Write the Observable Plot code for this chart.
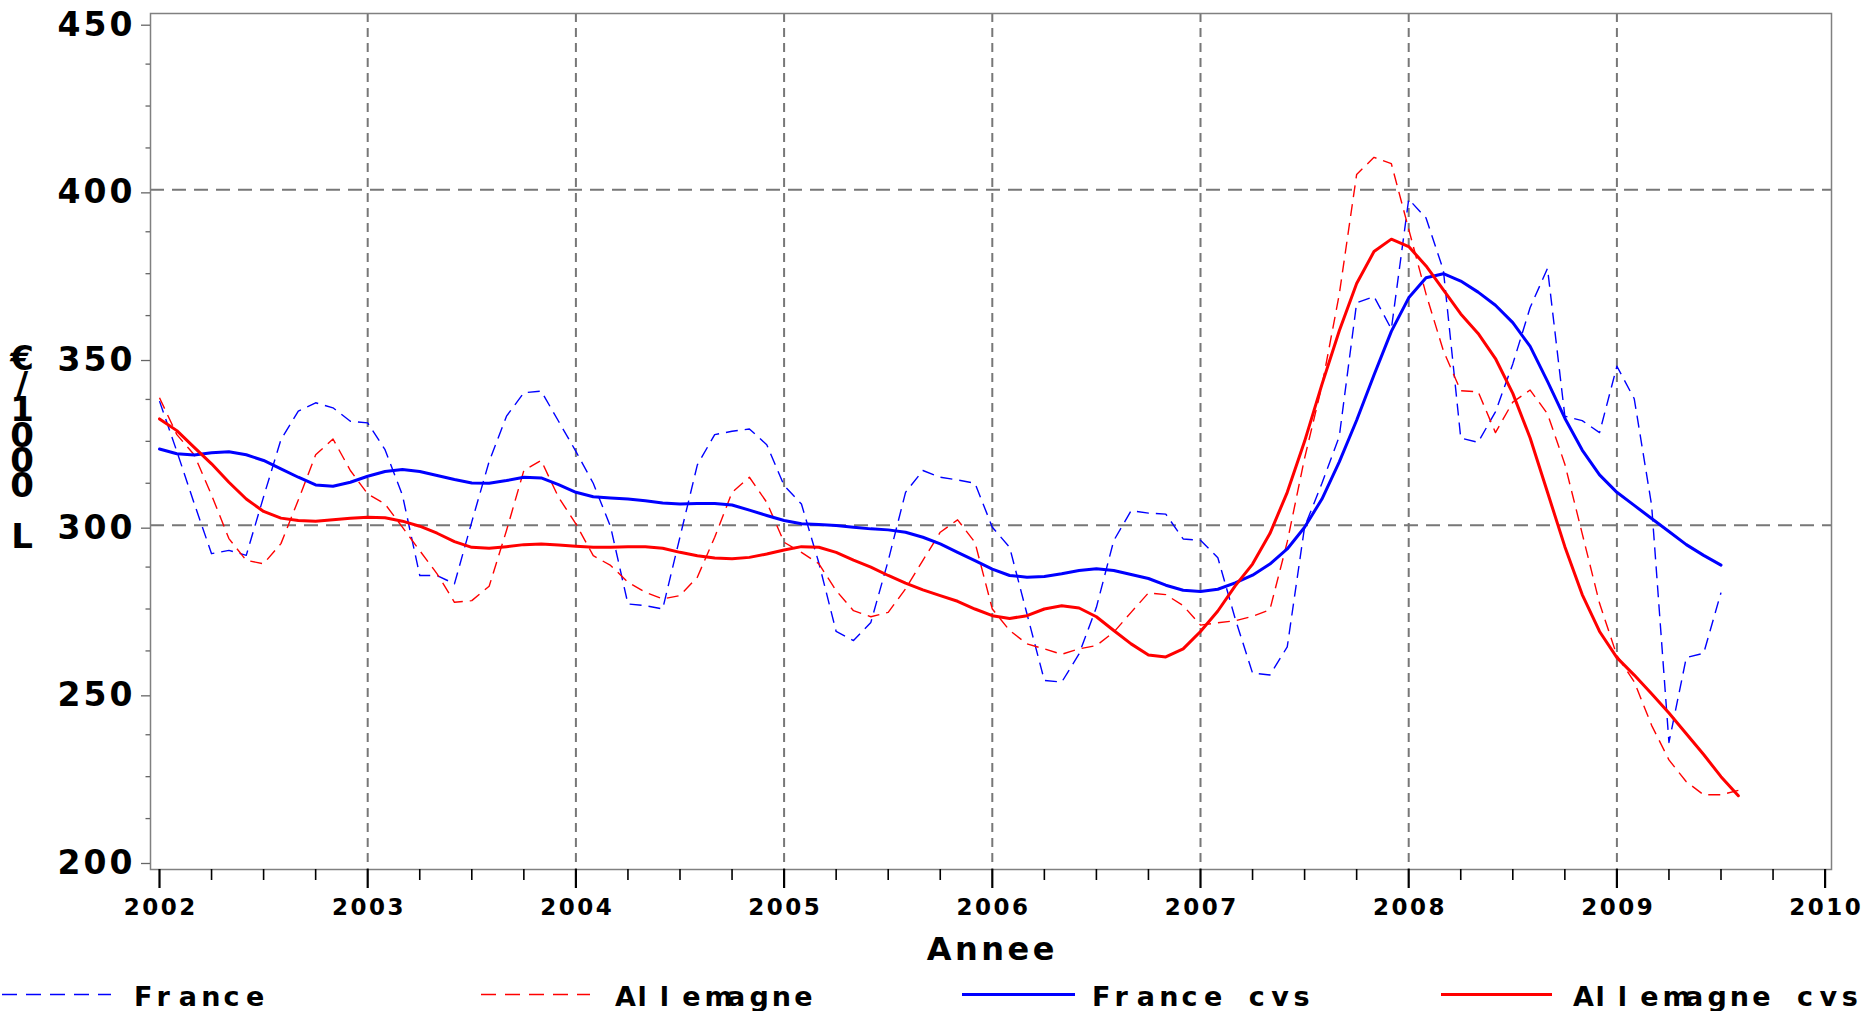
<!DOCTYPE html>
<html><head><meta charset="utf-8">
<script src="https://cdn.jsdelivr.net/npm/d3@7"></script>
<script src="https://cdn.jsdelivr.net/npm/@observablehq/plot@0.6"></script>
<style>
html,body{margin:0;padding:0;background:#fff;overflow:hidden;}
#chart svg{display:block;}
</style></head><body><div id="chart"></div>
<script>
// ---- data (monthly, starting January 2002) ----
const startYear = 2002;
const france = [
  337, 322, 306.5, 291.5, 292.5, 291, 308.5, 325.5, 334, 336.5, 335, 331,
  330.5, 322.5, 309, 285, 285, 282.5, 301, 319, 332.5, 339.5, 340, 331,
  322, 312.5, 299.5, 276.5, 276, 275, 296.5, 318, 327, 328, 328.7, 324,
  311.8, 306.3, 288.8, 268.3, 265.6, 271, 289.4, 309.8, 316.3, 314.3, 313.5, 312.5,
  299.4, 293.4, 273.5, 253.7, 253.2, 261.6, 275.5, 295.4, 304.3, 303.6, 303.3, 295.9,
  295.5, 290.3, 272.1, 255.9, 255.3, 263.7, 299.5, 312.5, 326.5, 366.3, 368.2, 358.5,
  397.2, 391.6, 376, 326, 324.7, 333.8, 348.1, 364.9, 376.6, 332.5, 331.2, 327.6,
  347.4, 337.7, 306, 235.2, 260.5, 261.8, 279.9
];
const allemagne = [
  338, 327, 321, 309, 296, 289.5, 288.5, 294.5, 307.5, 321, 325.7, 316.3,
  309.3, 306.3, 299.4, 292.4, 285.5, 277, 277.5, 281.8, 298.4, 316.3, 319.3, 308.3,
  300.4, 290.9, 288, 283, 280, 278, 279, 284.5, 296.4, 309.8, 314.3, 306.8,
  294.9, 291.9, 288.5, 280.5, 274.5, 272.7, 274, 281, 289.5, 297.9, 301.6, 294.9,
  275, 268.6, 264.6, 263.1, 261.5, 263.1, 264.1, 268.1, 274, 279.8, 279.3, 276,
  270.2, 270.9, 271.5, 272.8, 274.8, 295, 320, 341.6, 368.9, 404.6, 409.7, 407.8,
  388.3, 368.9, 352, 340.1, 339.8, 327.6, 336.7, 340.3, 333.2, 318.2, 297.5, 276.7,
  261.1, 253.3, 240.3, 230, 223.5, 219.6, 219.6, 220.9
];
const franceCvs = [
  322.7, 321.3, 320.9, 321.6, 321.9, 321.0, 319.3, 316.8, 314.3, 312.0, 311.6, 312.8,
  314.6, 316.0, 316.6, 316.0, 314.8, 313.6, 312.6, 312.5, 313.3, 314.3, 314.1, 312.1,
  309.8, 308.5, 308.1, 307.8, 307.3, 306.6, 306.3, 306.5, 306.5, 306.0, 304.5, 302.9,
  301.4, 300.4, 300.2, 299.9, 299.4, 298.9, 298.6, 297.9, 296.4, 294.4, 291.9, 289.4,
  286.9, 285.0, 284.5, 284.7, 285.5, 286.5, 287.0, 286.5, 285.3, 284.1, 282.1, 280.6,
  280.2, 280.9, 282.8, 285.1, 288.4, 292.9, 299.4, 307.8, 318.9, 331.3, 344.8, 357.8,
  367.8, 373.8, 375.0, 372.8, 369.5, 365.6, 360.4, 353.3, 342.9, 331.9, 322.4, 315.0,
  309.8, 305.9, 302.0, 298.1, 294.2, 291.0, 288.1
];
const allemagneCvs = [
  331.7, 328.2, 323.2, 318.3, 312.8, 307.8, 304.1, 302.1, 301.4, 301.2, 301.6, 302.1,
  302.4, 302.2, 301.2, 299.7, 297.6, 295.1, 293.4, 293.1, 293.6, 294.2, 294.4, 294.1,
  293.7, 293.4, 293.4, 293.6, 293.6, 293.1, 291.9, 290.9, 290.2, 290.0, 290.4, 291.4,
  292.6, 293.6, 293.4, 291.9, 289.6, 287.5, 285.0, 282.7, 280.7, 279.0, 277.3, 275.0,
  273.0, 272.2, 273.0, 275.0, 276.0, 275.3, 272.7, 268.6, 264.6, 261.3, 260.7, 263.1,
  268.3, 274.4, 281.9, 288.4, 297.5, 309.8, 325.0, 342.0, 358.0, 372.1, 381.6, 385.3,
  383.1, 377.3, 370.2, 363.0, 357.2, 349.7, 339.3, 326.0, 309.8, 293.6, 279.3, 268.3,
  260.5, 255.3, 249.7, 244.0, 237.8, 231.6, 225.0, 219.3
];
const yTicks = [200, 250, 300, 350, 400, 450];
const yGrid = [300, 400];
const xTicks = [2002, 2003, 2004, 2005, 2006, 2007, 2008, 2009, 2010];
const xGrid = [2003, 2004, 2005, 2006, 2007, 2008, 2009];
const seriesNames = ["France", "Allemagne", "France cvs", "Allemagne cvs"];
const xLabel = "Annee";
const yLabel = "€/1000 L";

// ---- build tables ----
const rows = (vals) => vals.map((v, i) => ({date: startYear + i / 12, value: v}));
const yMinor = d3.range(200, 450, 12.5).filter(v => !yTicks.includes(v));
const xMinor = d3.range(2002, 2010, 0.25).filter(v => !xTicks.includes(v));

const FONT = "'DejaVu Sans', 'Liberation Sans', sans-serif";
const BLUE = "#0000ff", RED = "#ff0000", GRID = "#777";

const W = 1862, H = 970;
const chart = Plot.plot({
  width: W, height: H,
  marginLeft: 150, marginRight: 31, marginTop: 13, marginBottom: 101,
  style: {fontFamily: FONT, background: "#fff", overflow: "visible"},
  x: {domain: [2002, 2010], range: [159, 1824.6], label: null},
  y: {domain: [200, 450], range: [860, 21.7], label: null},
  marks: [
    Plot.gridX(xGrid, {stroke: GRID, strokeOpacity: 1, strokeWidth: 2, strokeDasharray: "9,6"}),
    Plot.gridY(yGrid, {stroke: GRID, strokeOpacity: 1, strokeWidth: 2, strokeDasharray: "14,8"}),
    Plot.frame({stroke: "#808080", strokeWidth: 1.5}),
    Plot.line(rows(france), {x: "date", y: "value", stroke: BLUE, strokeWidth: 1.4, strokeDasharray: "12,7", strokeLinecap: "butt"}),
    Plot.line(rows(allemagne), {x: "date", y: "value", stroke: RED, strokeWidth: 1.4, strokeDasharray: "12,7", strokeLinecap: "butt"}),
    Plot.line(rows(franceCvs), {x: "date", y: "value", stroke: BLUE, strokeWidth: 3}),
    Plot.line(rows(allemagneCvs), {x: "date", y: "value", stroke: RED, strokeWidth: 3}),
    Plot.axisY(yMinor, {tickSize: 4.5, text: null, stroke: "#666", strokeWidth: 1.3, label: null}),
    Plot.axisY(yTicks, {tickSize: 9, tickPadding: 6, fontSize: 33, fontWeight: "bold", dy: 3,
      stroke: "#666", strokeWidth: 1.3, fill: "#000", label: null, tickFormat: d => String(d)}),
    Plot.axisX(xMinor, {tickSize: 11, text: null, stroke: "#000", strokeWidth: 1.6, label: null}),
    Plot.axisX(xTicks, {tickSize: 19, tickPadding: 10, fontSize: 23, fontWeight: "bold",
      stroke: "#000", strokeWidth: 2.2, fill: "#000", label: null, tickFormat: d => String(d)})
  ]
});

const svg = d3.select(chart);
svg.selectAll("text").each(function () {
  const t = this.textContent;
  if (/^\d{4}$/.test(t)) d3.select(this).attr("letter-spacing", 2.5).attr("dx", 1.25);
  else if (/^\d{3}$/.test(t)) d3.select(this).attr("letter-spacing", 3);
});

// x label
svg.append("text")
  .attr("x", 990.5 + 1.75).attr("y", 959.8)
  .attr("text-anchor", "middle")
  .attr("font-family", FONT).attr("font-weight", "bold").attr("font-size", 32)
  .attr("letter-spacing", 3.5).attr("fill", "#000")
  .text(xLabel);

// y label: one vertical text, upright characters stacked
svg.append("text")
  .attr("x", 22).attr("y", 440)
  .attr("font-family", FONT).attr("font-weight", "bold").attr("font-size", 34)
  .attr("fill", "#000")
  .style("writing-mode", "vertical-rl")
  .style("text-orientation", "upright")
  .attr("letter-spacing", -14.6)
  .text(yLabel);

document.getElementById("chart").appendChild(chart);

// ---- legend (below the plot svg) ----
const legend = d3.create("svg").attr("width", W).attr("height", 1011 - H)
  .style("display", "block");
const items = [
  {name: seriesNames[0], color: BLUE, dash: true,  x1: 2,    x2: 111,  tx: 134},
  {name: seriesNames[1], color: RED,  dash: true,  x1: 481,  x2: 590,  tx: 615},
  {name: seriesNames[2], color: BLUE, dash: false, x1: 962,  x2: 1075, tx: 1092},
  {name: seriesNames[3], color: RED,  dash: false, x1: 1441, x2: 1552, tx: 1573}
];
const LY = 994.5 - H, TY = 1006 - H, PITCH = 22.4;
items.forEach(it => {
  legend.append("line")
    .attr("x1", it.x1).attr("x2", it.x2).attr("y1", LY).attr("y2", LY)
    .attr("stroke", it.color).attr("stroke-width", it.dash ? 1.5 : 3)
    .attr("stroke-dasharray", it.dash ? "15,9" : null);
  const xs = Array.from(it.name).map((ch, i) => (it.tx + i * PITCH).toFixed(1));
  legend.append("text")
    .attr("x", xs.join(" ")).attr("y", TY)
    .attr("font-family", FONT).attr("font-weight", "bold").attr("font-size", 27)
    .attr("fill", "#000")
    .style("white-space", "pre")
    .text(it.name);
});
document.body.appendChild(legend.node());
</script>
</body></html>
